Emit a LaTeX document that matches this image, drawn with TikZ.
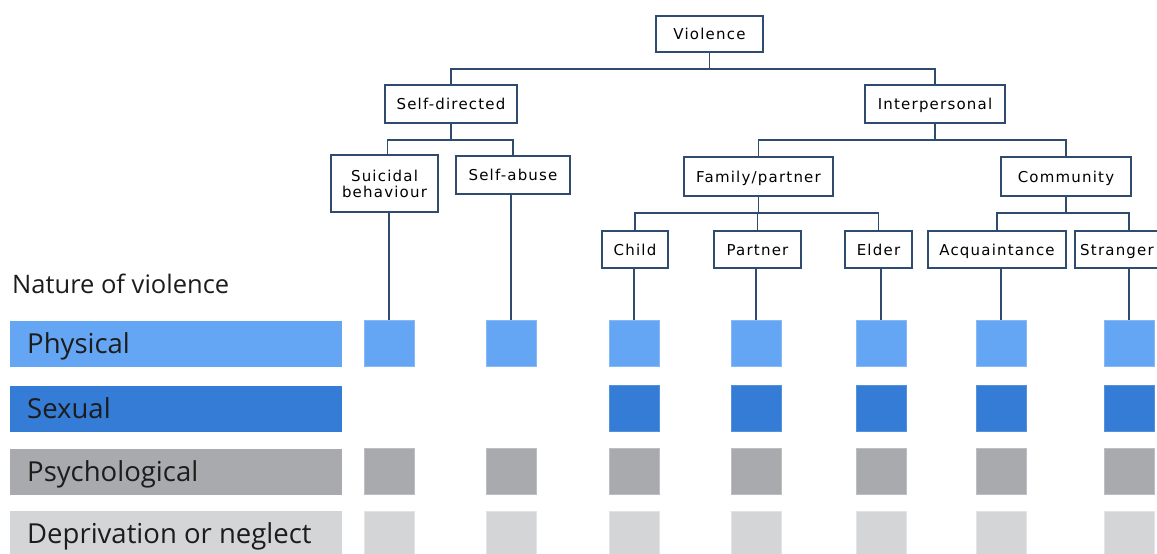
\documentclass[tikz,border=0pt]{standalone}
\usepackage{fontspec}
\newfontfamily\treefont{DejaVu Sans}[LetterSpace=8]
\newfontfamily\labfont{Open Sans}
\definecolor{edge}{HTML}{2F4B6E}
\definecolor{phys}{HTML}{64A6F4}
\definecolor{physb}{HTML}{86BAF6}
\definecolor{sexc}{HTML}{347CD5}
\definecolor{sexb}{HTML}{5592DC}
\definecolor{psyc}{HTML}{A9AAAD}
\definecolor{psycb}{HTML}{BDBEC0}
\definecolor{depc}{HTML}{D4D5D7}
\definecolor{depcb}{HTML}{E2E3E4}
\definecolor{labtext}{HTML}{1C1C1C}
\begin{document}
\begin{tikzpicture}[x=1pt,y=-1pt,
  tfont/.style={font=\treefont\fontsize{15}{17}\selectfont, text=black},
  tbox/.style={draw=edge, line width=1.8pt, fill=white, inner sep=0pt, tfont,
    align=center, minimum height=37pt, text height=12.5pt, text depth=1pt},
  conn/.style={draw=edge, line width=1.9pt},
  bar/.style={minimum width=332pt, minimum height=46pt, inner sep=0pt, anchor=west},
  blab/.style={anchor=west, inner sep=0pt, font=\labfont\fontsize{27.5}{30}\selectfont,
    text=labtext, text height=20pt, text depth=0.5pt},
  sq/.style={minimum width=50pt, minimum height=46pt, inner sep=0pt, line width=0.8pt},
  physq/.style={sq, fill=phys, draw=physb},
  sexq/.style={sq, fill=sexc, draw=sexb},
  psyq/.style={sq, fill=psyc, draw=psycb},
  depq/.style={sq, fill=depc, draw=depcb}
]
\useasboundingbox (0,0) rectangle (1157,554);
\clip (0,0) rectangle (1157,554);

% tree nodes
\node[tbox, minimum width=107pt, minimum height=36pt] (vio) at (709.5,34) {Violence};
\node[tbox, minimum width=132pt, minimum height=38pt] (self) at (451,104) {Self-directed};
\node[tbox, minimum width=140pt, minimum height=38pt] (inter) at (935,104) {Interpersonal};
\node[tbox, text height=, text depth=, minimum width=107pt, minimum height=57pt] (sui) at (384.5,183.5) {Suicidal\\[-1pt]behaviour};
\node[tbox, minimum width=114pt, minimum height=38pt] (sab) at (513,175) {Self-abuse};
\node[tbox, minimum width=149pt, minimum height=39pt] (fam) at (758.5,176.5) {Family/partner};
\node[tbox, minimum width=130pt, minimum height=39pt] (com) at (1066,176.5) {Community};
\node[tbox, minimum width=66pt] (child) at (635,249.5) {Child};
\node[tbox, minimum width=87pt] (part) at (757.5,249.5) {Partner};
\node[tbox, minimum width=67pt] (eld) at (878.5,249.5) {Elder};
\node[tbox, minimum width=138pt] (acq) at (997,249.5) {Acquaintance};
\node[tbox, minimum width=108pt] (str) at (1129,249.5) {};
\node[anchor=west, inner sep=0pt, tfont, text height=12.5pt, text depth=1pt] (strt) at (1080,249.5) {Stranger};

% tree connectors
\draw[conn] (vio.south) -- ++(0,16) -| (self.north);
\draw[conn] (vio.south) -- ++(0,16) -| (inter.north);
\draw[conn] (self.south) -- ++(0,16) -| ([xshift=3pt]sui.north);
\draw[conn] (self.south) -- ++(0,16) -| (sab.north);
\draw[conn] (inter.south) -- ++(0,16) -| (fam.north);
\draw[conn] (inter.south) -- ++(0,16) -| (com.north);
\draw[conn] (fam.south) -- ++(0,16) -| (child.north);
\draw[conn] (fam.south) -- ++(0,16) -| (part.north);
\draw[conn] (fam.south) -- ++(0,16) -| (eld.north);
\draw[conn] (com.south) -- ++(0,16) -| (acq.north);
\draw[conn] (com.south) -- ++(0,16) -| (str.north);

% nature label
\node[anchor=west, inner sep=0pt, font=\labfont\fontsize{25.5}{28}\selectfont, text=labtext,
  text height=18pt, text depth=0pt] (nat) at (12,284) {Nature of violence};

% bars
\node[bar, fill=phys] (bphys) at (10,343.5) {};
\node[bar, fill=sexc] (bsex) at (10,408.5) {};
\node[bar, fill=psyc] (bpsy) at (10,471.5) {};
\node[bar, fill=depc] (bdep) at (10,534) {};
\node[blab] (lphys) at ([xshift=17pt]bphys.west) {Physical};
\node[blab] (lsex) at ([xshift=17pt]bsex.west) {Sexual};
\node[blab] (lpsy) at ([xshift=17pt]bpsy.west) {Psychological};
\node[blab] (ldep) at ([xshift=17pt]bdep.west) {Deprivation or neglect};

% squares
\foreach \n/\x in {1/389,2/511,3/634,4/756,5/881,6/1001,7/1129}{
  \node[physq] (p\n) at (\x,343.5) {};
  \node[psyq] (y\n) at (\x,471.5) {};
  \node[depq] (d\n) at (\x,534) {};
}
\foreach \n/\x in {3/634,4/756,5/881,6/1001,7/1129}{
  \node[sexq] (s\n) at (\x,408.5) {};
}

% leaf connectors
\draw[conn] (sui.south -| p1.north) -- (p1.north);
\draw[conn] (sab.south -| p2.north) -- (p2.north);
\draw[conn] (child.south -| p3.north) -- (p3.north);
\draw[conn] (part.south -| p4.north) -- (p4.north);
\draw[conn] (eld.south -| p5.north) -- (p5.north);
\draw[conn] (acq.south -| p6.north) -- (p6.north);
\draw[conn] (str.south -| p7.north) -- (p7.north);
\end{tikzpicture}
\end{document}
